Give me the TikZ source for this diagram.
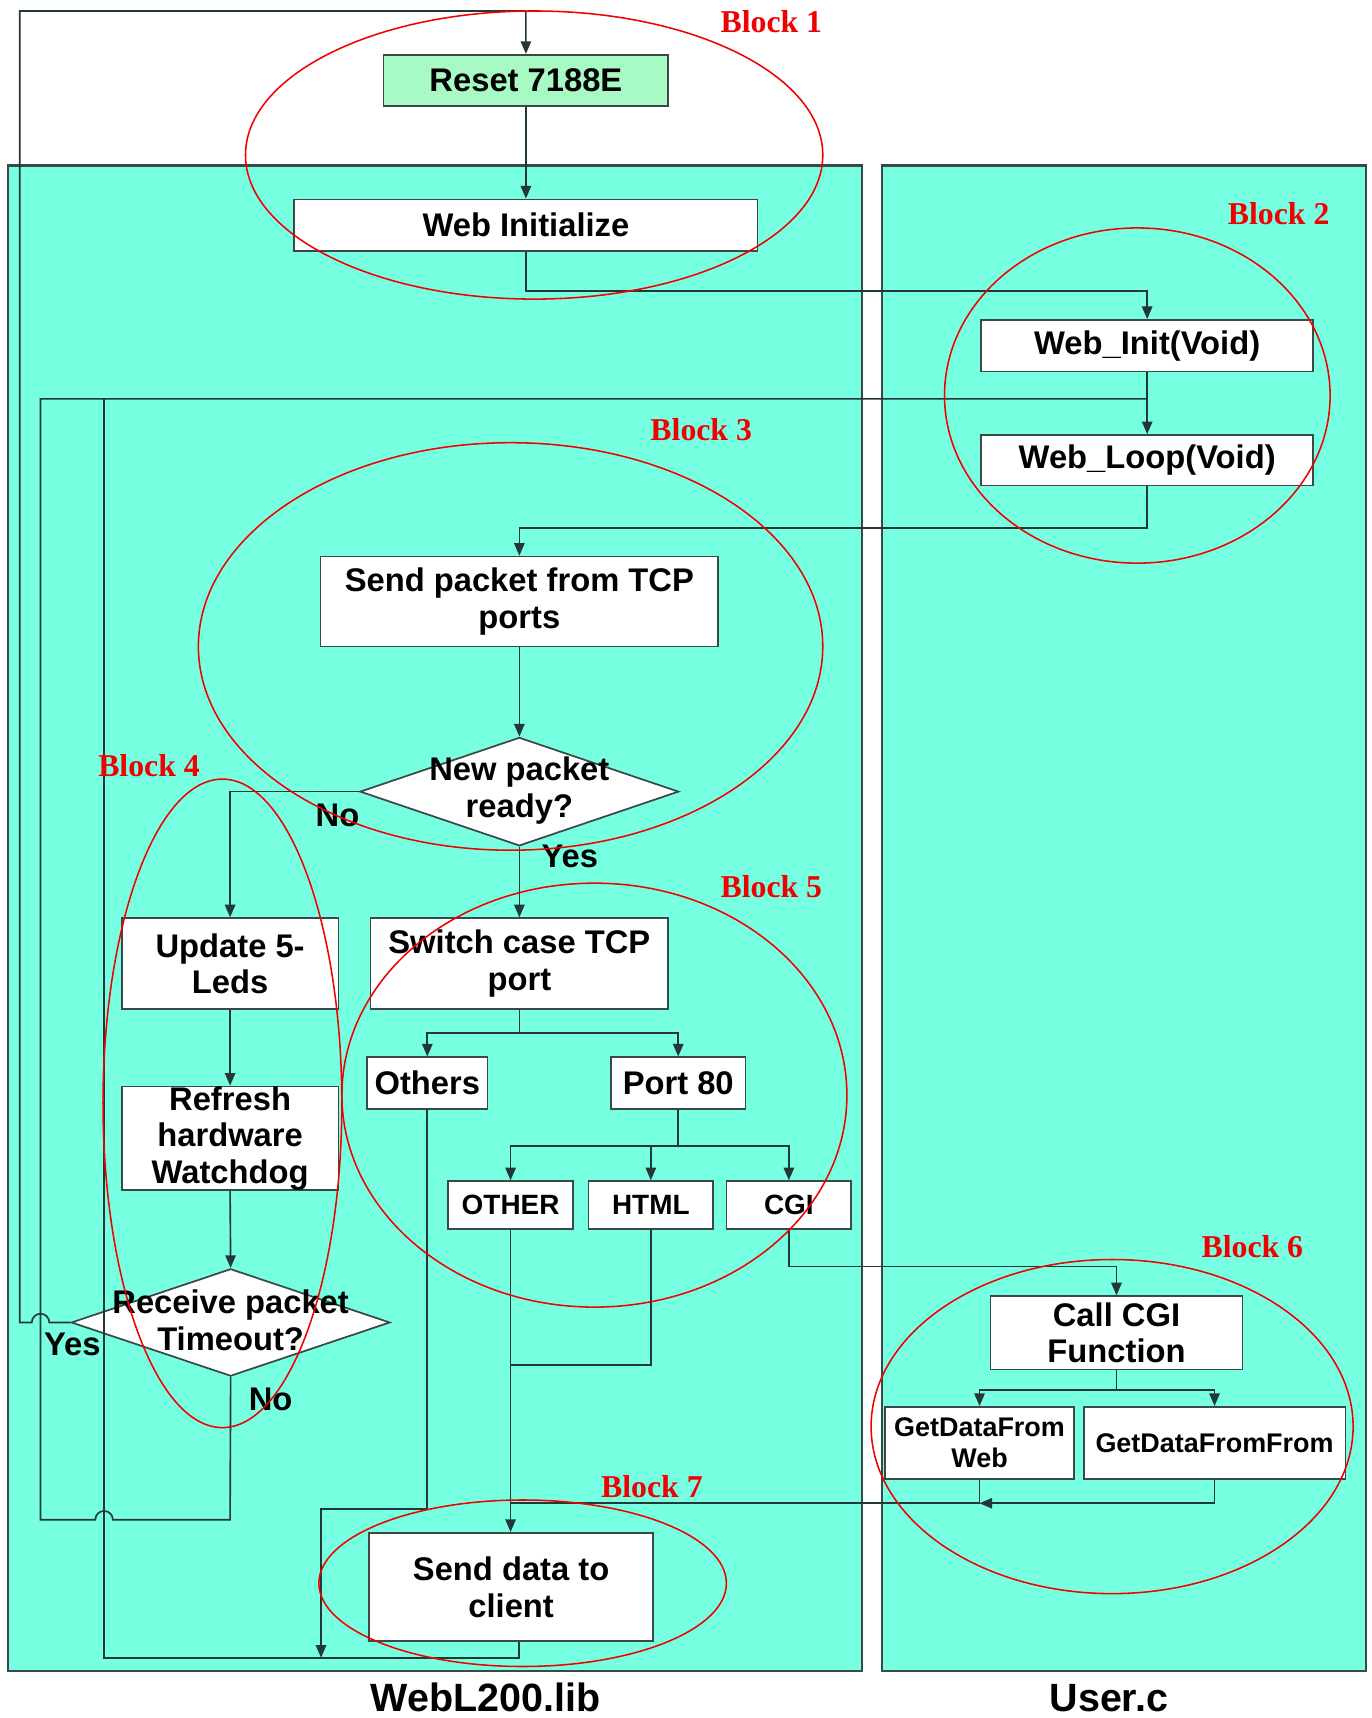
\documentclass[tikz,border=0pt]{standalone}
\usepackage{fontspec}
\setmainfont{Liberation Sans}
\newfontfamily\blkfont{Liberation Serif}
\usetikzlibrary{shapes.geometric,arrows.meta,calc}
\definecolor{panelcyan}{RGB}{118,255,224}
\definecolor{resetgreen}{RGB}{168,250,196}
\definecolor{lncol}{RGB}{35,55,55}
\definecolor{boxcol}{RGB}{60,72,72}
\definecolor{blkred}{RGB}{240,0,0}
\newcommand\myfbig{\fontsize{17}{19}\selectfont\bfseries}
\newcommand\myfmid{\fontsize{14.5}{16.5}\selectfont\bfseries}
\newcommand\myfsmall{\fontsize{14}{16}\selectfont\bfseries}
\newcommand\myfblk{\blkfont\fontsize{16.5}{18}\selectfont\bfseries}
\newcommand\myflab{\fontsize{20.5}{24}\selectfont\bfseries}
\tikzset{
  ln/.style={draw=lncol, line width=0.85pt},
  arr/.style={ln, -{Triangle[length=0.23cm,width=0.19cm]}},
  box/.style={draw=boxcol, line width=0.9pt, fill=white, inner sep=0pt, align=center, font=\myfbig},
  boxmid/.style={box, font=\myfmid},
  boxsmall/.style={box, font=\myfsmall},
  dia/.style={diamond, draw=boxcol, line width=0.9pt, fill=white, inner sep=0pt},
  txt/.style={inner sep=0pt, align=center, font=\myfbig},
  panel/.style={draw=boxcol, line width=1.2pt, fill=panelcyan, inner sep=0pt},
  redl/.style={draw=blkred, line width=0.8pt},
  blk/.style={inner sep=0pt, text=blkred, font=\myfblk},
  lab/.style={inner sep=0pt, font=\myflab, anchor=base}
}
\begin{document}
\begin{tikzpicture}[x=0.02cm, y=0.02cm]
\fill[white] (0,0) rectangle (1252,-1568);
\useasboundingbox (0,0) rectangle (1252,-1568);

% panels
\node[panel, minimum width=15.6cm, minimum height=27.48cm] (libpanel) at (397,-838) {};
\node[panel, minimum width=8.84cm, minimum height=27.48cm] (userpanel) at (1026,-838) {};

% boxes
\node[box, fill=resetgreen, minimum width=5.2cm, minimum height=0.94cm] (reset) at (480,-73.5) {Reset 7188E};
\node[box, minimum width=8.46cm, minimum height=0.94cm] (webinit) at (480,-205.5) {Web Initialize};
\node[box, minimum width=6.06cm, minimum height=0.94cm] (winit) at (1047,-315.5) {Web\_Init(Void)};
\node[box, minimum width=6.06cm, minimum height=0.92cm] (wloop) at (1047,-420) {Web\_Loop(Void)};
\node[box, minimum width=7.26cm, minimum height=1.64cm] (sendpkt) at (474,-549) {Send packet from TCP\\ports};
\node[dia, minimum width=5.82cm, minimum height=1.98cm] (newpkt) at (474,-722.5) {};
\node[txt] (newpkttext) at (474,-721.5) {New packet\\ready?};
\node[box, minimum width=3.96cm, minimum height=1.66cm] (update) at (210,-879.5) {Update 5-\\Leds};
\node[box, minimum width=5.44cm, minimum height=1.66cm] (switch) at (474,-879.5) {Switch case TCP\\port};
\node[box, minimum width=3.96cm, minimum height=1.88cm] (refresh) at (210,-1039) {Refresh\\hardware\\Watchdog};
\node[dia, minimum width=5.82cm, minimum height=1.96cm] (timeout) at (210.5,-1207) {};
\node[txt] (timeouttext) at (210.5,-1205) {Receive packet\\Timeout?};
\node[box, minimum width=2.2cm, minimum height=0.94cm] (others) at (390,-988.5) {Others};
\node[box, minimum width=2.46cm, minimum height=0.94cm] (port80) at (619,-988.5) {Port 80};
\node[boxmid, minimum width=2.28cm, minimum height=0.88cm] (other) at (466,-1100) {OTHER};
\node[boxmid, minimum width=2.28cm, minimum height=0.88cm] (html) at (594,-1100) {HTML};
\node[boxmid, minimum width=2.28cm, minimum height=0.88cm] (cgi) at (720,-1100) {CGI};
\node[box, minimum width=4.6cm, minimum height=1.34cm] (callcgi) at (1019,-1216.5) {Call CGI\\Function};
\node[boxsmall, minimum width=3.44cm, minimum height=1.32cm] (gdweb) at (894,-1317) {GetDataFrom\\Web};
\node[boxsmall, minimum width=4.78cm, minimum height=1.32cm] (gdfrom) at (1108.5,-1317) {GetDataFromFrom};
\node[box, minimum width=5.18cm, minimum height=1.98cm] (senddata) at (466.5,-1448.5) {Send data to\\client};

% named junction points
\coordinate (loopjn) at (1047,-364);
\coordinate (botarr) at (293,-1513);
\coordinate (gdjn) at (894,-1372);

% connectors
\draw[arr] (reset.south) -- (webinit.north);
\draw[arr] (webinit.south) -- ++(0,-36) -| (winit.north);
\draw[arr] (winit.south) -- (wloop.north);
\draw[arr] (wloop.south) -- ++(0,-38) -| (sendpkt.north);
\draw[arr] (sendpkt.south) -- (newpkt.north);
\draw[arr] (newpkt.west) -| (update.north);
\draw[arr] (newpkt.south) -- (switch.north);
\draw[arr] (update.south) -- (refresh.north);
\draw[arr] (refresh.south) -- (timeout.north);
% Yes of timeout: back to reset, hopping over the x=37 line
\draw[arr] (timeout.west) -- (45,-1207) arc[start angle=0, end angle=180, radius=0.16cm] -- (18,-1207) -- (18,-10) -| (reset.north);
% No of timeout: back to Web_Loop, hopping over the x=95 line
\draw[ln] (timeout.south) -- (210,-1387) -- (103,-1387) arc[start angle=0, end angle=180, radius=0.16cm] -- (37,-1387) -- (37,-364) -- (loopjn);
% switch branches
\draw[arr] (switch.south) -- ++(0,-21) -| (others.north);
\draw[arr] (switch.south) -- ++(0,-21) -| (port80.north);
\draw[arr] (port80.south) -- ++(0,-33) -| (other.north);
\draw[arr] (port80.south) -- ++(0,-33) -| (html.north);
\draw[arr] (port80.south) -- ++(0,-33) -| (cgi.north);
\draw[arr] (cgi.south) -- ++(0,-33) -| (callcgi.north);
\draw[arr] (callcgi.south) -- ++(0,-18) -| (gdweb.north);
\draw[arr] (callcgi.south) -- ++(0,-18) -| (gdfrom.north);
\draw[arr] (gdfrom.south) |- (gdjn);
\draw[ln] (gdweb.south) -- (gdjn) -- (466,-1372);
\draw[ln] (html.south) |- (466,-1246);
\draw[arr] (other.south) -- (other.south |- senddata.north);
\draw[arr] (others.south) -- (390,-1377) -| (botarr);
\draw[ln] ($(senddata.south)+(7,0)$) -- (473.5,-1513) -- (95,-1513) -- (95,-364);

% labels on branches
\node[txt] (nolab1) at (308,-744) {No};
\node[txt] (yeslab1) at (520,-782) {Yes};
\node[txt] (yeslab2) at (66,-1227) {Yes};
\node[txt] (nolab2) at (247,-1277) {No};

% red ellipses
\draw[redl] (487.5,-141.5) ellipse [x radius=5.27cm, y radius=2.63cm];
\draw[redl] (1038,-361) ellipse [x radius=3.52cm, y radius=3.06cm];
\draw[redl] (466,-590) ellipse [x radius=5.7cm, y radius=3.72cm];
\draw[redl] (203,-1007) ellipse [x radius=2.18cm, y radius=5.92cm];
\draw[redl] (542.5,-999.5) ellipse [x radius=4.61cm, y radius=3.87cm];
\draw[redl] (1015,-1302) ellipse [x radius=4.4cm, y radius=3.05cm];
\draw[redl] (477,-1445) ellipse [x radius=3.72cm, y radius=1.52cm];

% block labels
\node[blk] (b1) at (704,-20) {Block 1};
\node[blk] (b2) at (1167,-195) {Block 2};
\node[blk] (b3) at (640,-392) {Block 3};
\node[blk] (b4) at (136,-699) {Block 4};
\node[blk] (b5) at (704,-809) {Block 5};
\node[blk] (b6) at (1143,-1138) {Block 6};
\node[blk] (b7) at (595,-1357) {Block 7};

% panel titles
\node[lab] (libname) at (443,-1562) {WebL200.lib};
\node[lab] (username) at (1012,-1562) {User.c};
\end{tikzpicture}
\end{document}
